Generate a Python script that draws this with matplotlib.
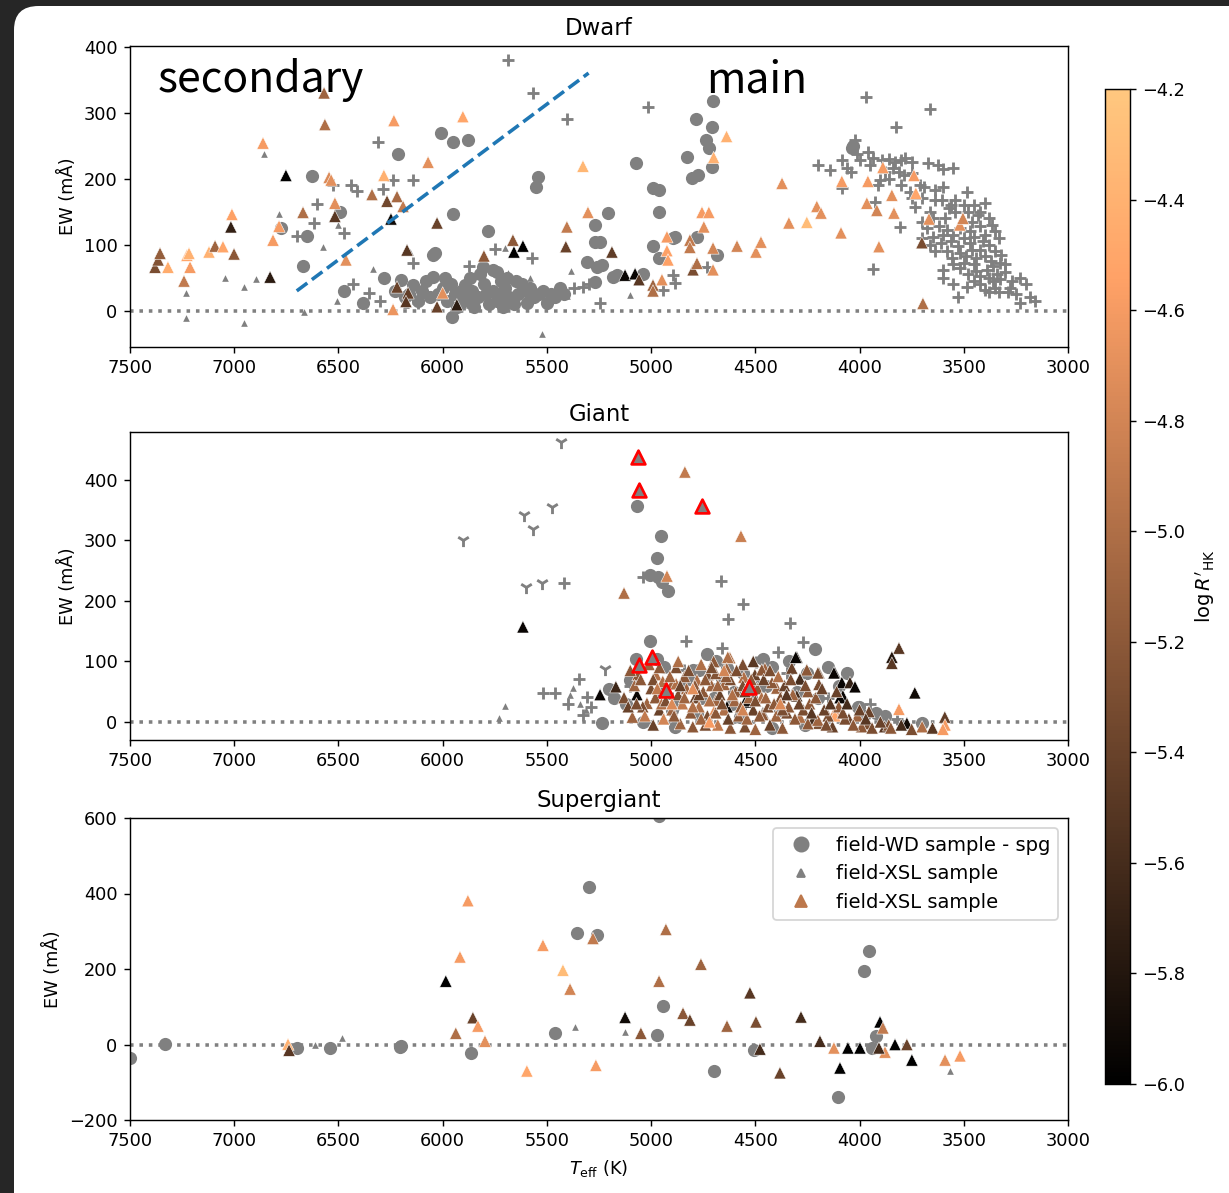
import numpy as np
import matplotlib
matplotlib.use('Agg')
from matplotlib import pyplot as plt
from matplotlib.patches import FancyBboxPatch
from matplotlib.lines import Line2D

# Dwarf panel
# ===========
# columns: Teff, EW, logR'HK
dwarf_xsl_col = np.array([
    [7380, 66, -5.3], [7365, 77, -5.25], [7356, 87, -5.15], [7318, 66, -4.45],
    [7241, 45, -4.9], [7227, 84, -4.5], [7217, 87, -4.4], [7212, 66, -4.6],
    [7121, 89, -4.4], [7092, 98, -5.1], [7054, 97, -4.5], [7016, 127, -5.7],
    [7011, 146, -4.55], [7001, 86, -5.2], [6862, 254, -4.6], [6828, 51, -5.75],
    [6814, 107, -4.6], [6785, 128, -4.6], [6752, 205, -6.0], [6670, 149, -5.0],
    [6569, 330, -5.1], [6565, 282, -5.0], [6545, 202, -4.75], [6535, 198, -4.7],
    [6517, 163, -4.7], [6517, 143, -5.5], [6464, 77, -4.7], [6339, 176, -5.0],
    [6282, 205, -4.4], [6267, 166, -5.35], [6248, 139, -5.9], [6234, 288, -4.6],
    [6219, 173, -5.05], [6190, 158, -4.9], [6171, 92, -5.5], [6070, 225, -4.7],
    [6027, 133, -5.4], [6219, 36, -5.4], [6166, 27, -5.45], [6176, 14, -5.5],
    [6238, 2, -4.65], [6027, 6, -5.4], [6000, 27, -4.7], [5932, 9, -5.75],
    [5903, 294, -4.5], [5802, 83, -5.2], [5663, 107, -5.2], [5658, 89, -6.0],
    [5615, 98, -6.0], [5404, 127, -4.9], [5409, 97, -5.4], [5327, 219, -4.35],
    [5303, 149, -4.7], [5188, 89, -5.45], [5125, 54, -5.95], [5077, 56, -5.95],
    [5058, 47, -5.5], [4991, 39, -5.1], [4991, 30, -5.0], [4948, 47, -4.7],
    [4924, 112, -4.6], [4924, 91, -4.55], [4919, 77, -4.55], [4814, 107, -4.9],
    [4814, 96, -4.9], [4799, 62, -5.3], [4780, 72, -5.0], [4756, 149, -4.6],
    [4723, 149, -4.6], [4747, 127, -4.7], [4703, 62, -4.7], [4703, 95, -4.8],
    [4700, 232, -4.4], [4638, 264, -4.4], [4588, 98, -4.8], [4497, 89, -4.7],
    [4473, 104, -4.7], [4372, 193, -4.7], [4339, 133, -4.7], [4253, 134, -4.3],
    [4205, 158, -4.7], [4185, 148, -4.7], [4089, 118, -4.7], [4085, 196, -4.6],
    [3960, 196, -4.6], [3965, 163, -4.7], [3917, 152, -4.8], [3907, 97, -4.7],
    [3888, 217, -4.6], [3845, 175, -4.7], [3835, 148, -4.7], [3739, 205, -4.6],
    [3730, 178, -4.5], [3701, 103, -5.3], [3696, 11, -5.0], [3667, 139, -4.7],
    [3519, 130, -4.7], [3504, 140, -4.8],
])

dwarf_wd = np.array([
    [6627, 204], [6670, 68], [6651, 113], [6776, 125], [6493, 149], [6214, 238],
    [6008, 269], [5951, 255], [5879, 259], [5951, 146], [5783, 121], [6047, 84],
    [6035, 88], [5543, 202], [5552, 187], [5308, 74], [5270, 130], [5270, 104],
    [5260, 66], [6473, 30], [6382, 12], [6282, 50], [6200, 47], [6143, 39],
    [6047, 51], [5955, -9], [5711, 6], [5893, 39], [5807, 66], [5759, 62],
    [5740, 59], [5725, 21], [5596, 12], [5500, 12], [5437, 35], [5236, 69],
    [5207, 148], [4991, 186], [4962, 183], [4962, 149], [4991, 98], [4962, 80],
    [4886, 112], [4780, 112], [5039, 56], [4684, 84], [5270, 44], [5184, 51],
    [4703, 318], [4785, 291], [4708, 278], [4737, 259], [4723, 246], [4828, 233],
    [4708, 217], [4775, 205], [4804, 201], [5073, 223], [5245, 104], [5164, 54],
    [4895, 110], [4037, 246], [4032, 250],
    [6100, 30], [6060, 20], [6000, 35], [5980, 15], [5940, 25], [5900, 15],
    [5860, 30], [5830, 20], [5800, 40], [5780, 10], [5760, 30], [5700, 35],
    [5680, 20], [5650, 45], [5640, 25], [5600, 30], [5560, 20], [5520, 30],
    [5480, 25], [6120, 15], [6180, 20], [5990, 50], [5870, 50], [5720, 45],
    [5930, 5], [5850, 5], [6080, 45], [6020, 25], [5960, 40], [5910, 30],
    [5870, 20], [5820, 55], [5790, 25], [5740, 15], [5690, 50], [5660, 10],
    [5620, 40], [5580, 35], [5540, 25], [5460, 20], [5420, 25], [6160, 25],
    [6230, 30],
])

dwarf_xsl_grey = np.array([
    [7231, 27], [7231, -11], [7044, 50], [6953, 36], [6953, -18], [6896, 48],
    [6857, 238], [6785, 146], [6574, 97], [6502, 130], [6665, -2], [6507, 15],
    [6334, 63], [6157, 89], [6176, 8], [5874, 9], [5701, 95], [5687, 57],
    [5581, 50], [5404, 23], [5385, 60], [5525, -36], [5101, 24],
])

dwarf_plus = np.array([
    [5687, 380], [5567, 330], [5404, 290], [6310, 255], [6238, 198], [6143, 198],
    [6411, 181], [6286, 184], [6526, 190], [6440, 190], [6603, 161], [6617, 133],
    [6699, 113], [6473, 118], [6143, 72], [5874, 68], [5749, 94], [5572, 80],
    [5500, 13], [5370, 35], [5327, 36], [5300, 40], [6430, 41], [6354, 27],
    [6300, 14], [6119, 12], [5900, 10], [5245, 12], [5015, 309],
    [4895, 54], [4886, 42], [4943, 32], [4732, 66],
    [3970, 324], [3662, 306], [3826, 278], [4022, 258], [4013, 238], [4200, 220],
    [4142, 213], [4085, 229], [4061, 216], [3936, 232], [3890, 228], [3860, 230],
    [3830, 225], [3800, 228], [3780, 232], [3750, 226], [3840, 216], [3810, 210],
    [3785, 205], [3750, 208], [3672, 224], [3624, 221], [3600, 215], [3552, 216],
    [3902, 198], [3912, 191], [4085, 186], [3711, 190], [3690, 187], [3640, 183],
    [3600, 188], [3485, 180], [3750, 170], [3700, 170], [3640, 168], [3605, 168],
    [3540, 168], [3560, 160], [3399, 163], [3735, 157], [3660, 150], [3570, 155],
    [3480, 150], [3430, 145], [3460, 135], [3926, 164], [3677, 125], [3620, 128],
    [3580, 122], [3520, 125], [3470, 120], [3420, 128], [3365, 130], [3806, 127],
    [3662, 100], [3610, 102], [3560, 106], [3530, 98], [3470, 103], [3410, 105],
    [3380, 99], [3555, 80], [3490, 83], [3440, 80], [3400, 83], [3370, 76],
    [3327, 72], [3520, 64], [3440, 60], [3390, 62], [3360, 67], [3600, 62],
    [3936, 63], [3485, 36], [3528, 21], [3420, 40], [3360, 45], [3325, 48],
    [3279, 35], [3231, 50], [3200, 40], [3380, 28], [3330, 29], [3290, 28],
    [3231, 12], [3159, 14], [3180, 20],
    [3650, 140], [3590, 140], [3540, 150], [3500, 160], [3450, 160], [3420, 150],
    [3380, 140], [3350, 120], [3330, 110], [3400, 115], [3450, 112], [3500, 110],
    [3550, 115], [3600, 115], [3650, 112], [3700, 135], [3700, 110], [3640, 90],
    [3580, 90], [3520, 88], [3460, 92], [3420, 92], [3350, 90], [3320, 85],
    [3300, 70], [3450, 70], [3500, 72], [3550, 70], [3480, 55], [3420, 52],
    [3380, 50], [3340, 55], [3300, 58], [3270, 45], [3450, 45], [3400, 32],
    [3350, 35], [3250, 25], [3550, 40], [3600, 50], [3760, 180], [3800, 190],
    [3860, 200], [3880, 210], [3950, 220], [4000, 228], [3960, 240], [4040, 210],
])

# secondary / main separation
split_teff = [6700, 5300]
split_ew = [30, 360]

# Giant panel
# ===========
giant_xsl_col = np.array([
    [5615, 157, -5.95], [4838, 413, -4.9], [4569, 307, -4.85], [4924, 241, -4.8],
    [5130, 213, -5.0], [5245, 45, -5.95], [5169, 58, -5.65], [5068, 45, -5.95],
    [3811, 122, -5.5], [3845, 107, -5.8], [3845, 97, -5.5], [3735, 48, -5.9],
    [3591, 8, -5.45], [3590, -5, -4.6], [3811, 21, -4.6], [3773, -2, -5.9],
    [4118, 81, -5.95], [4085, 65, -5.95], [4046, 65, -5.7], [4022, 58, -5.95],
    [4080, 43, -5.95], [4301, 107, -5.85], [4325, 89, -5.4], [4253, 86, -5.2],
    [4195, 81, -5.4], [4286, 71, -5.6], [4195, 62, -5.3], [4301, 43, -5.6],
    [4248, 50, -5.2], [4118, 17, -4.7], [3955, 17, -5.4], [4541, 33, -5.95],
    [4636, 25, -5.95], [4397, 56, -5.1], [4464, 15, -5.7], [4224, 3, -5.6],
    [4195, -2, -5.3], [4130, -8, -5.4], [4622, 106, -5.0], [4454, 88, -5.1],
    [4502, 78, -5.4], [4555, 74, -5.0], [5063, 78, -5.2], [4977, 78, -5.0],
    [5020, 31, -5.1], [5040, 25, -5.3], [4960, 20, -5.4], [5090, 8, -5.1],
    [4944, 67, -5.0], [4900, 63, -5.1], [4880, 63, -5.0], [4780, 69, -5.0],
    [4727, 78, -5.3], [4632, 107, -5.0], [4637, 88, -5.1], [4650, 62, -5.1],
    [4594, 50, -5.2], [4689, 36, -5.1], [4699, 17, -4.7], [4546, 36, -5.95],
    [4469, 86, -5.2], [4306, 107, -5.95], [4200, 81, -5.3], [4123, 81, -5.95],
    [4094, 40, -5.95], [4118, 10, -4.5], [4464, 12, -5.2], [4349, 15, -5.3],
    [4286, 8, -5.0], [4248, -3, -5.2], [4200, 3, -5.1], [4151, 10, -5.3],
    [4051, 5, -5.4], [3960, -3, -5.3], [3880, -8, -5.5],
    [5000, 55, -5.3], [4980, 40, -5.2], [4950, 30, -5.0], [4920, 50, -5.25],
    [4900, 20, -5.1], [4870, 45, -5.3], [4850, 30, -4.9], [4830, 55, -5.1],
    [4810, 15, -5.2], [4790, 40, -5.4], [4770, 25, -5.0], [4750, 50, -5.2],
    [4730, 10, -5.3], [4710, 60, -5.1], [4690, 80, -5.25], [4670, 45, -5.4],
    [4650, 20, -5.0], [4620, 70, -5.3], [4600, 35, -5.1], [4580, 10, -5.2],
    [4560, 60, -5.3], [4530, 40, -5.1], [4510, 20, -5.4], [4490, 55, -5.2],
    [4470, 40, -5.0], [4440, 25, -5.3], [4420, 65, -5.2], [4400, 10, -5.1],
    [4380, 40, -5.3], [4360, 60, -5.4], [4340, 25, -5.2], [4320, 45, -5.1],
    [4270, 20, -5.3], [4240, 30, -5.2], [4170, 20, -5.4], [4100, 25, -5.2],
    [4070, 5, -5.3], [4010, 10, -5.1], [3990, -8, -5.2], [3860, -5, -5.3],
    [3700, -8, -5.0], [3650, -10, -5.5], [3600, -12, -4.6], [5130, 40, -5.3],
    [5110, 25, -5.4], [5080, 60, -5.1], [5050, 70, -5.2], [5030, 10, -4.9],
    [4990, -5, -5.4], [4940, 5, -4.8], [4860, -3, -5.1], [4800, -8, -5.2],
    [4740, -5, -5.3], [4680, -5, -4.9], [4620, -10, -5.2], [4550, -8, -5.3],
    [4500, -12, -5.1], [4430, -5, -5.4], [4370, -10, -5.2], [4880, 90, -5.3],
    [4840, 75, -5.2], [4760, 95, -5.0], [4700, 100, -5.2], [4560, 95, -5.3],
    [4510, 100, -5.5],
    [5100, 85, -5.2], [5070, 30, -5.3], [5010, 95, -5.1], [4990, 70, -5.3],
    [4970, 55, -4.9], [4960, 90, -5.2], [4930, 35, -5.3], [4910, 75, -5.1],
    [4890, 10, -5.2], [4870, 100, -5.0], [4860, 60, -5.4], [4840, 40, -5.1],
    [4820, 85, -5.3], [4800, 25, -5.0], [4790, 60, -5.2], [4770, 45, -5.4],
    [4760, 5, -5.1], [4740, 70, -5.2], [4720, 35, -5.0], [4710, 90, -5.3],
    [4690, 15, -5.2], [4680, 60, -5.1], [4660, 30, -5.3], [4640, 75, -5.2],
    [4630, 5, -5.4], [4610, 45, -5.0], [4590, 85, -5.3], [4570, 25, -5.2],
    [4550, 50, -5.4], [4540, 5, -5.1], [4520, 70, -5.2], [4500, 35, -5.3],
    [4480, 10, -5.2], [4460, 70, -5.4], [4450, 40, -5.1], [4430, 85, -5.3],
    [4410, 30, -5.2], [4390, 75, -5.0], [4370, 20, -5.3], [4350, 45, -5.5],
    [4330, 70, -5.3], [4310, 5, -5.2], [4290, 30, -5.4], [4260, 60, -5.3],
    [4230, 15, -5.5], [4210, 40, -5.2], [4180, 55, -5.4], [4160, -5, -5.3],
    [4140, 30, -5.5], [4110, 50, -5.4], [4080, 15, -5.3], [4060, 30, -5.6],
    [4030, -5, -5.2], [4000, 20, -5.4], [3970, 5, -5.5], [3940, -10, -5.3],
    [3900, 0, -5.4], [3850, -10, -5.2], [3800, -5, -5.6], [3750, -12, -5.3],
    [4800, 55, -4.7], [4650, 85, -4.8], [4900, 30, -4.75], [4560, 20, -4.8],
    [4380, 30, -4.75], [4720, 0, -4.6],
])

giant_wd = np.array([
    [5068, 357], [4953, 307], [4972, 271], [5006, 243], [4967, 240], [4948, 231],
    [4919, 216], [5006, 134], [5073, 104], [4972, 104], [4732, 112], [5236, -2],
    [5039, 0], [4886, -8], [4464, 104], [4214, 120], [4799, 86], [4770, 86],
    [5101, 69], [4636, 89], [4002, 25], [3920, 15], [3701, -2], [4009, 25],
    [4574, 8], [4700, 40], [4850, 60], [4900, 20], [4450, 60], [4300, 50],
    [4150, 90], [3880, 10], [4600, 50], [5180, 40],
    [4960, 50], [4880, 30], [4820, 70], [4760, 40], [4690, 100], [4660, 70],
    [4610, 30], [4560, 80], [4520, 40], [4480, 60], [4420, 90], [4380, 20],
    [4340, 100], [4250, 80], [4200, 40], [4100, 60], [4060, 80], [3980, 10],
    [4940, 90], [5120, 30], [5200, 55], [4780, 15], [4420, -10], [4260, -5],
])

giant_xsl_grey = np.array([
    [5701, 26], [5730, 7], [5375, 56], [5390, 45], [5340, 30], [5310, 20],
])

giant_plus = np.array([
    [5418, 230], [5039, 240], [4665, 233], [4560, 195], [4632, 170], [4334, 164],
    [4833, 134], [4660, 122], [4392, 116], [4272, 132], [4843, 86], [4497, 99],
    [5346, 71], [5519, 48], [5461, 48], [5399, 30], [5327, 12], [5308, 41],
    [5290, 25], [5100, 60], [4900, 40], [4700, 55], [4550, 30], [4350, 80],
    [4150, 40], [3950, 30], [3820, 5],
])

giant_tri = np.array([
    [5433, 463], [5903, 301], [5611, 342], [5476, 355], [5567, 319], [5601, 223],
    [5524, 230], [5221, 88],
])

giant_flagged = np.array([
    [5063, 438], [5058, 383], [4756, 357], [4996, 107], [5058, 94], [4929, 53],
    [4531, 58],
])

# Supergiant panel
# ================
spg_xsl_col = np.array([
    [6742, 1, -4.4], [6737, -15, -5.5], [5985, 168, -6.0], [5879, 381, -4.6],
    [5917, 232, -4.6], [5855, 71, -5.4], [5937, 30, -5.0], [5831, 49, -4.6],
    [5797, 9, -4.7], [5596, -70, -4.5], [5519, 263, -4.6], [5423, 197, -4.3],
    [5389, 147, -4.8], [5279, 281, -4.9], [5265, -55, -4.6], [5125, 72, -5.9],
    [5049, 30, -5.2], [4962, 168, -5.0], [4929, 305, -5.0], [4761, 213, -5.1],
    [4847, 83, -5.2], [4814, 65, -5.4], [4636, 49, -5.1], [4526, 137, -5.5],
    [4497, 60, -5.3], [4478, -12, -5.6], [4382, -75, -5.4], [4281, 73, -5.6],
    [4190, 9, -5.6], [4094, -62, -6.0], [4056, -9, -6.0], [3998, -9, -6.0],
    [4123, -9, -4.7], [3902, 60, -6.0], [3888, 44, -4.9], [3878, -20, -4.7],
    [3830, 0, -6.0], [3773, 0, -5.4], [3749, -41, -6.0], [3590, -41, -4.7],
    [3518, -30, -4.6], [3907, -9, -5.6],
])

spg_wd = np.array([
    [7500, -36], [7332, 1], [6699, -9], [6541, -9], [6205, -7], [6200, -3],
    [5864, -23], [5461, 30], [5298, 417], [5356, 295], [5260, 290], [4962, 605],
    [4943, 102], [4972, 25], [4698, -70], [4507, -15], [4104, -139], [3979, 195],
    [3955, 248], [3921, 22], [3940, -9],
])

spg_xsl_grey = np.array([
    [6613, 0], [6483, 17], [5365, 47], [5125, 33], [3568, -70],
])

#%% figure

W, H, DPI = 1229, 1193, 128
fig = plt.figure(figsize=(W / DPI, H / DPI), dpi=DPI)
fig.patch.set_facecolor('#262626')
card = FancyBboxPatch((14 / W, -0.02), 1.02 - 14 / W, 0.02 + 1 - 6 / H,
                      boxstyle='round,pad=0,rounding_size=0.02',
                      transform=fig.transFigure, facecolor='white',
                      edgecolor='none', zorder=-10)
fig.patches.append(card)

cmap = plt.get_cmap('copper')
vmin, vmax = -6.0, -4.2

left, width = 130 / W, 938 / W
ax_d = fig.add_axes([left, 1 - 347 / H, width, 301 / H])
ax_g = fig.add_axes([left, 1 - 740 / H, width, 308 / H])
ax_s = fig.add_axes([left, 1 - 1120 / H, width, 302 / H])
cax = fig.add_axes([1105 / W, 1 - 1084 / H, 25 / W, 995 / H])

grey = '#808080'


def draw_panel(ax, wd, xsl_grey, xsl_col, plus=None):
    ax.axhline(0, ls=':', color=grey, lw=2, zorder=0)
    ax.scatter(wd[:, 0], wd[:, 1], s=55, color=grey, lw=0, zorder=1)
    ax.scatter(xsl_grey[:, 0], xsl_grey[:, 1], s=14, marker='^', color=grey,
               lw=0, zorder=2)
    if plus is not None:
        ax.scatter(plus[:, 0], plus[:, 1], s=50, marker='+', color=grey,
                   lw=1.6, zorder=2)
    sc = ax.scatter(xsl_col[:, 0], xsl_col[:, 1], c=xsl_col[:, 2], s=48,
                    marker='^', cmap=cmap, vmin=vmin, vmax=vmax,
                    edgecolors='white', linewidths=0.3, zorder=3)
    ax.set_xlim(7500, 3000)
    ax.set_ylabel('EW (mÅ)')
    return sc


sc = draw_panel(ax_d, dwarf_wd, dwarf_xsl_grey, dwarf_xsl_col, dwarf_plus)
ax_d.plot(split_teff, split_ew, ls='--', color='#1f77b4', lw=2, zorder=4)
ax_d.set_ylim(-55, 401)
ax_d.set_yticks([0, 100, 200, 300, 400])
ax_d.set_title('Dwarf', fontsize=12.8)
cjk = ['Noto Sans CJK SC', 'DejaVu Sans']
ax_d.text(0.029, 0.847, 'secondary', transform=ax_d.transAxes, fontsize=24,
          family=cjk, weight='light', va='baseline')
ax_d.text(0.614, 0.847, 'main', transform=ax_d.transAxes, fontsize=24,
          family=cjk, weight='light', va='baseline')

draw_panel(ax_g, giant_wd, giant_xsl_grey, giant_xsl_col, giant_plus)
ax_g.scatter(giant_tri[:, 0], giant_tri[:, 1], s=55, marker='1', color=grey,
             lw=1.6, zorder=2)
ax_g.scatter(giant_flagged[:, 0], giant_flagged[:, 1], s=60, marker='^',
             color=grey, edgecolors='red', linewidths=1.5, zorder=5)
ax_g.set_ylim(-30, 479)
ax_g.set_yticks([0, 100, 200, 300, 400])
ax_g.set_title('Giant', fontsize=12.8)

draw_panel(ax_s, spg_wd, spg_xsl_grey, spg_xsl_col)
ax_s.set_ylim(-200, 600)
ax_s.set_yticks([-200, 0, 200, 400, 600])
ax_s.set_title('Supergiant', fontsize=12.8)
ax_s.set_xlabel(r'$T_{\rm eff}$ (K)')

handles = [
    Line2D([], [], ls='', marker='o', ms=8, color=grey),
    Line2D([], [], ls='', marker='^', ms=4, color=grey),
    Line2D([], [], ls='', marker='^', ms=7, color=cmap(0.6)),
]
ax_s.legend(handles, ['field-WD sample - spg', 'field-XSL sample',
                      'field-XSL sample'], loc='upper right', fontsize=11)

cb = fig.colorbar(sc, cax=cax)
cb.set_ticks(np.arange(-6.0, -4.19, 0.2))
cb.set_label(r"$\log R'_{\rm HK}$", fontsize=11)

plt.savefig('out.png', dpi=DPI, facecolor=fig.get_facecolor())
